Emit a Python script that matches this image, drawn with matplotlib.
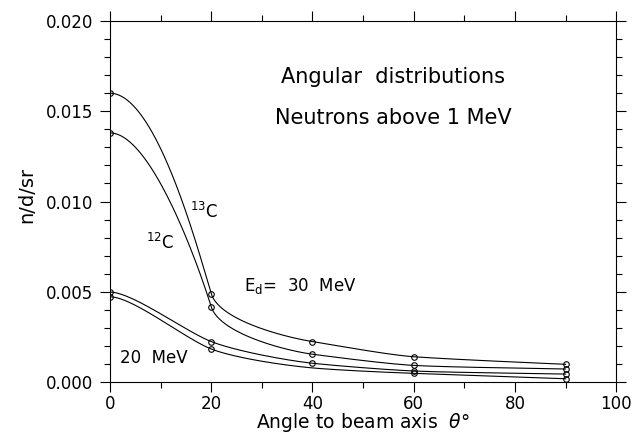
import numpy as np
import matplotlib.pyplot as plt
from matplotlib.ticker import MultipleLocator

# angles (deg) and yields (n/d/sr)
angle = [0, 20, 40, 60, 90]
c13_30 = [0.0160, 0.0049, 0.00224, 0.00140, 0.00098]
c12_30 = [0.0138, 0.00417, 0.00154, 0.00092, 0.00072]
c13_20 = [0.00498, 0.00224, 0.00104, 0.00061, 0.00044]
c12_20 = [0.00472, 0.00183, 0.00078, 0.00048, 0.00018]
# slope of the drawn curve at each point (n/d/sr per degree)
c13_30_slope = [0, -0.95e-3, -4.5e-5, -2.0e-5, -1.3e-5]
c12_30_slope = [0, -0.90e-3, -3.7e-5, -1.5e-5, -0.7e-5]
c13_20_slope = [0, -1.10e-4, -3.0e-5, -1.2e-5, -0.6e-5]
c12_20_slope = [0, -1.10e-4, -2.5e-5, -1.0e-5, -1.0e-5]
# the 40 deg point of the lowest curve has no marker in the original
c12_20_marked = [0, 1, 3, 4]

SX, SY = 5.06, 18050.0   # px per degree, px per unit


def smooth(xs, ys, slopes, k=0.25, k0=0.2):
    # piecewise cubic bezier in screen units with the given tangents
    p = np.column_stack([np.asarray(xs, float) * SX, np.asarray(ys, float) * SY])
    u = np.column_stack([np.ones(len(xs)) * SX, np.asarray(slopes) * SY])
    u /= np.hypot(u[:, 0], u[:, 1])[:, None]
    t = np.linspace(0, 1, 120)[:, None]
    out = []
    for i in range(len(xs) - 1):
        L = np.hypot(*(p[i + 1] - p[i]))
        c1 = p[i] + (k0 if i == 0 else k) * L * u[i]
        c2 = p[i + 1] - k * L * u[i + 1]
        seg = ((1 - t) ** 3 * p[i] + 3 * (1 - t) ** 2 * t * c1
               + 3 * (1 - t) * t ** 2 * c2 + t ** 3 * p[i + 1])
        out.append(seg)
    out = np.vstack(out)
    return out[:, 0] / SX, out[:, 1] / SY


plt.rcParams['font.family'] = 'DejaVu Sans'
fig = plt.figure(figsize=(6.32, 4.34), dpi=100)
ax = fig.add_axes([0.174, 0.1198, 0.801, 0.8318])

for ys, sl, marked in [(c13_30, c13_30_slope, range(5)),
                       (c12_30, c12_30_slope, range(5)),
                       (c13_20, c13_20_slope, range(5)),
                       (c12_20, c12_20_slope, c12_20_marked)]:
    sx, sy = smooth(angle, ys, sl)
    ax.plot(sx, sy, color='black', lw=0.8)
    ax.plot([angle[i] for i in marked], [ys[i] for i in marked], 'o',
            mfc='none', mec='black', ms=4, mew=0.8)

ax.set_xlim(0, 100)
ax.set_ylim(0, 0.020)
ax.xaxis.set_major_locator(MultipleLocator(20))
ax.xaxis.set_minor_locator(MultipleLocator(10))
ax.yaxis.set_major_locator(MultipleLocator(0.005))
ax.yaxis.set_minor_locator(MultipleLocator(0.001))
ax.yaxis.set_major_formatter(plt.FormatStrFormatter('%.3f'))
ax.tick_params(which='both', direction='out', top=True, right=True, width=0.8)
ax.tick_params(which='major', length=7, labelsize=12)
ax.tick_params(which='minor', length=4)
ax.tick_params(axis='x', pad=2)
ax.tick_params(axis='y', pad=5)
for s in ax.spines.values():
    s.set_linewidth(0.8)

fig.text(0.574, 0.026, r'Angle to beam axis  $\theta$°', fontsize=13.5,
         ha='center', va='center')
fig.text(0.043, 0.55, 'n/d/sr', fontsize=14, rotation=90,
         ha='center', va='center')

ax.text(55.9, 0.0169, 'Angular  distributions', fontsize=15, ha='center', va='center')
ax.text(55.9, 0.0146, 'Neutrons above 1 MeV', fontsize=15, ha='center', va='center')
ax.text(18.5, 0.0094, r'$^{13}$C', fontsize=12, ha='center', va='center')
ax.text(9.9, 0.0077, r'$^{12}$C', fontsize=12, ha='center', va='center')
ax.text(26.5, 0.0053, r'E$_{\rm d}$=  30  MeV', fontsize=12, ha='left', va='center')
ax.text(2, 0.00133, '20  MeV', fontsize=12, ha='left', va='center')

fig.savefig('out.png', dpi=100)
